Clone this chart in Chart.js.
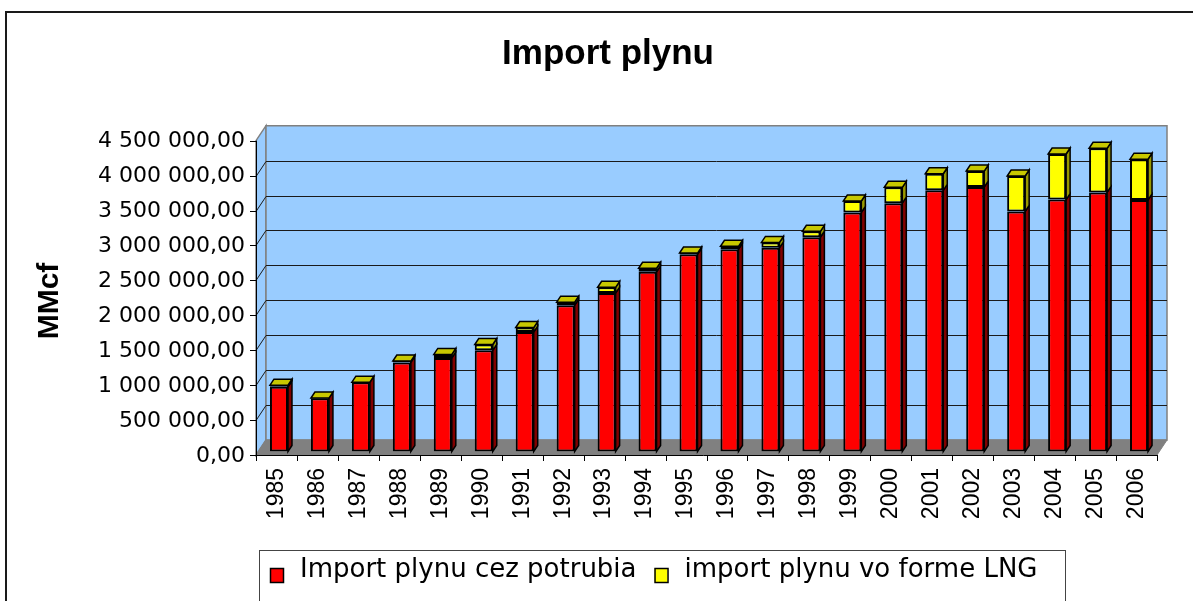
<!DOCTYPE html>
<html>
<head>
<meta charset="utf-8">
<title>Import plynu</title>
<script src="https://cdn.jsdelivr.net/npm/chart.js@4.4.1/dist/chart.umd.min.js"></script>
<style>
  html, body { margin: 0; padding: 0; background: #fff; }
  canvas { display: block; }
</style>
</head>
<body>
<canvas id="gasChart" width="1193" height="601"></canvas>
<script>
// data (MMcf)
const years = ['1985','1986','1987','1988','1989','1990','1991','1992','1993','1994','1995',
               '1996','1997','1998','1999','2000','2001','2002','2003','2004','2005','2006'];
const pipelineImports = [926000, 763000, 993000, 1276000, 1340000, 1448000, 1710000, 2095000, 2268000, 2573000, 2823000,
                         2897000, 2916000, 3067000, 3423000, 3556000, 3739000, 3786000, 3437000, 3607000, 3710000, 3602000];
const lngImports = [24000, 2000, 0, 18000, 50000, 84000, 64000, 43000, 82000, 51000, 18000,
                    40000, 78000, 85000, 163000, 226000, 238000, 229000, 507000, 652000, 631000, 584000];
const seriesNames = ['Import plynu cez potrubia', 'import plynu vo forme LNG'];
const yMax = 4500000;
const yStep = 500000;

(function(){
    const ctx = document.getElementById('gasChart').getContext('2d');

    // 3d look: bars sit a bit behind the front axes, back wall further behind
    const BAR_DX = 2.5, BAR_DY = -3.5;   // bar plane vs front plane
    const WALL_DX = 10, WALL_DY = -15;   // back wall vs front plane
    const DEPTH_X = 4, DEPTH_Y = -6;     // depth of a single bar
    const faceColors = [
        { side: '#800000', top: '#c8c800' },
        { side: '#999900', top: '#c8c800' }
    ];

    function fmt(v){
        const parts = v.toFixed(2).split('.');
        return parts[0].replace(/\B(?=(\d{3})+(?!\d))/g, ' ') + ',' + parts[1];
    }

    function poly(c, pts, fill, stroke, lw){
        c.beginPath();
        c.moveTo(pts[0][0], pts[0][1]);
        for (let i = 1; i < pts.length; i++) c.lineTo(pts[i][0], pts[i][1]);
        c.closePath();
        if (fill) { c.fillStyle = fill; c.fill(); }
        if (stroke) { c.strokeStyle = stroke; c.lineWidth = lw || 1; c.stroke(); }
    }

    const scene3d = {
        id: 'scene3d',
        beforeDraw(chart){
            const c = chart.ctx;
            c.save();
            c.fillStyle = '#fff';
            c.fillRect(0, 0, chart.width, chart.height);
            // outer chart frame (cut off right and bottom)
            c.strokeStyle = '#1a1a1a';
            c.lineWidth = 2;
            c.beginPath();
            c.moveTo(6, chart.height + 2);
            c.lineTo(6, 12);
            c.lineTo(chart.width + 2, 12);
            c.stroke();
            c.restore();
        },
        beforeDatasetsDraw(chart){
            const c = chart.ctx;
            const ys = chart.scales.y;
            const area = chart.chartArea;
            const fl = area.left - BAR_DX, fr = area.right - BAR_DX;   // front plane
            const fy = v => ys.getPixelForValue(v) - BAR_DY;
            const f0 = fy(0), fTop = fy(yMax);
            c.save();
            // left side wall
            poly(c, [[fl, f0], [fl, fTop], [fl + WALL_DX, fTop + WALL_DY], [fl + WALL_DX, f0 + WALL_DY]], '#99ccff', '#808080', 1.5);
            // back wall
            poly(c, [[fl + WALL_DX, fTop + WALL_DY], [fr + WALL_DX, fTop + WALL_DY], [fr + WALL_DX, f0 + WALL_DY], [fl + WALL_DX, f0 + WALL_DY]], '#99ccff', '#808080', 1.5);
            // floor
            poly(c, [[fl, f0], [fr, f0], [fr + WALL_DX, f0 + WALL_DY], [fl + WALL_DX, f0 + WALL_DY]], '#808080', '#808080', 1);
            // gridlines on the walls
            c.strokeStyle = '#1a1a1a';
            c.lineWidth = 1;
            for (let v = yStep; v < yMax; v += yStep) {
                const y = Math.round(fy(v)) + 0.5;
                c.beginPath();
                c.moveTo(fl, y);
                c.lineTo(fl + WALL_DX, y + WALL_DY);
                c.lineTo(fr + WALL_DX, y + WALL_DY);
                c.stroke();
            }
            // front axes with tick marks
            c.strokeStyle = '#000';
            c.beginPath();
            c.moveTo(fl + 0.5, fTop);
            c.lineTo(fl + 0.5, f0 + 6);
            c.moveTo(fl - 6, Math.round(f0) + 0.5);
            c.lineTo(fr, Math.round(f0) + 0.5);
            for (let v = 0; v <= yMax; v += yStep) {
                const y = Math.round(fy(v)) + 0.5;
                c.moveTo(fl - 6, y);
                c.lineTo(fl, y);
            }
            const step = (fr - fl) / years.length;
            for (let i = 1; i <= years.length; i++) {
                const x = Math.round(fl + i * step) + 0.5;
                c.moveTo(x, f0);
                c.lineTo(x, f0 + 6);
            }
            c.stroke();
            // side and top faces of the bars (front faces drawn by chart.js)
            const metas = chart.data.datasets.map((d, i) => chart.getDatasetMeta(i));
            for (let k = 0; k < years.length; k++) {
                metas.forEach((meta, di) => {
                    const b = meta.data[k].getProps(['x', 'y', 'base', 'width'], true);
                    const xr = b.x + b.width / 2;
                    if (b.base - b.y > 0.5) {
                        poly(c, [[xr, b.base], [xr, b.y], [xr + DEPTH_X, b.y + DEPTH_Y], [xr + DEPTH_X, b.base + DEPTH_Y]],
                             faceColors[di].side, '#000', 1.5);
                    }
                });
                const topMeta = metas[metas.length - 1];
                const t = topMeta.data[k].getProps(['x', 'y', 'width'], true);
                const xl = t.x - t.width / 2, xr = t.x + t.width / 2;
                poly(c, [[xl, t.y], [xr, t.y], [xr + DEPTH_X, t.y + DEPTH_Y], [xl + DEPTH_X, t.y + DEPTH_Y]],
                     faceColors[metas.length - 1].top, '#000', 1.5);
            }
            c.restore();
        },
        afterDraw(chart){
            const c = chart.ctx;
            c.save();
            // y axis title
            c.translate(50, 301);
            c.rotate(-Math.PI / 2);
            c.font = 'bold 30px "Liberation Sans", Arial, sans-serif';
            c.fillStyle = '#000';
            c.textAlign = 'center';
            c.textBaseline = 'middle';
            c.fillText('MMcf', 0, 0);
            c.restore();

            // legend in a box below the chart
            c.save();
            c.strokeStyle = '#444';
            c.lineWidth = 1;
            c.strokeRect(259.5, 550.5, 806, 80);
            c.font = '26px "DejaVu Sans", sans-serif';
            c.textBaseline = 'alphabetic';
            let x = 270;
            chart.data.datasets.forEach(ds => {
                c.fillStyle = ds.backgroundColor;
                c.fillRect(x, 568, 13, 14);
                c.strokeStyle = '#000';
                c.lineWidth = 1.5;
                c.strokeRect(x + 0.5, 568.5, 13, 14);
                c.fillStyle = '#000';
                c.fillText(ds.label, x + 30, 577);
                x += 30 + c.measureText(ds.label).width + 18;
            });
            c.restore();
        }
    };

    new Chart(ctx, {
        type: 'bar',
        data: {
            labels: years,
            datasets: [{
                label: seriesNames[0],
                data: pipelineImports,
                backgroundColor: '#ff0000',
                borderColor: '#000',
                borderWidth: 2,
                borderSkipped: false
            }, {
                label: seriesNames[1],
                data: lngImports,
                backgroundColor: '#ffff00',
                borderColor: '#000',
                borderWidth: 2,
                borderSkipped: false
            }]
        },
        options: {
            responsive: false,
            animation: false,
            devicePixelRatio: 1,
            layout: { padding: { left: 56.5, right: 33.5, top: 0, bottom: 49.5 } },
            datasets: { bar: { barPercentage: 0.44, categoryPercentage: 1 } },
            scales: {
                x: {
                    stacked: true,
                    grid: { display: false, drawTicks: false },
                    border: { display: false },
                    ticks: {
                        autoSkip: false,
                        minRotation: 90,
                        maxRotation: 90,
                        padding: 16.5,
                        labelOffset: -2.5,
                        color: '#000',
                        font: { family: '"Liberation Sans", Arial, sans-serif', size: 23 }
                    },
                    afterFit: s => { s.height = 100; }
                },
                y: {
                    stacked: true,
                    min: 0,
                    max: yMax,
                    grid: { display: false, drawTicks: false },
                    border: { display: false },
                    ticks: {
                        stepSize: yStep,
                        padding: 13.5,
                        labelOffset: 4.5,
                        color: '#000',
                        font: { family: '"DejaVu Sans", sans-serif', size: 22 },
                        callback: v => fmt(v)
                    },
                    afterFit: s => { s.width = 202; }
                }
            },
            plugins: {
                legend: { display: false },
                tooltip: { enabled: false },
                title: {
                    display: true,
                    text: 'Import plynu',
                    color: '#000',
                    font: { family: '"Liberation Sans", Arial, sans-serif', size: 35, weight: 'bold' },
                    padding: { top: 33.6, bottom: 61.6 }
                }
            }
        },
        plugins: [scene3d]
    });
})();
</script>
</body>
</html>
